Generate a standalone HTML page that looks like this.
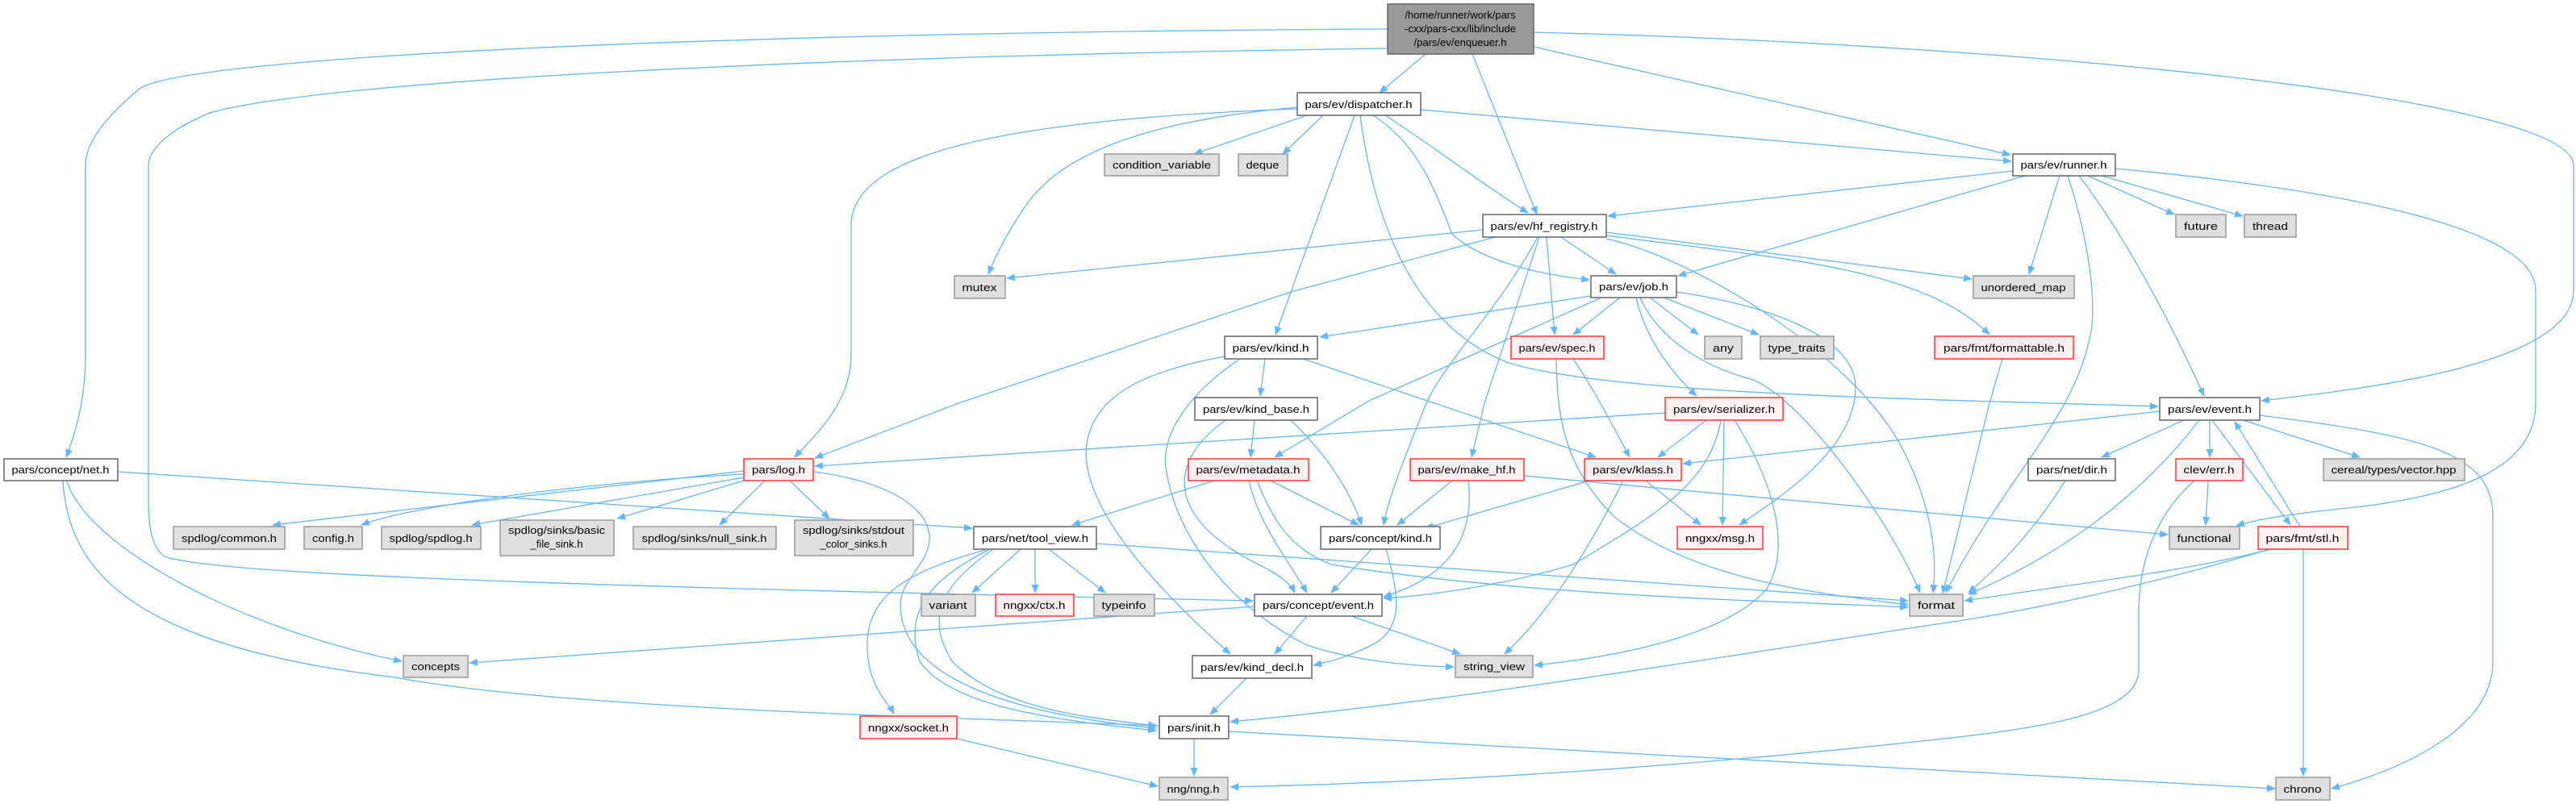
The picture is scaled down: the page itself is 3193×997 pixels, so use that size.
<!DOCTYPE html>
<html><head><meta charset="utf-8"><style>
html,body{margin:0;padding:0;background:#fff;}
svg{display:block;}
.e{fill:none;stroke:#63b7ff;stroke-width:1.3;marker-end:url(#a);}
.w{fill:#fff;stroke:#666;stroke-width:1.5;}
.g{fill:#e0e0e0;stroke:#999;stroke-width:1.5;}
.r{fill:#fff0f0;stroke:#f33;stroke-width:1.5;}
.root{fill:#999;stroke:#666;stroke-width:1.5;}
text{font-family:"Liberation Sans","DejaVu Sans",sans-serif;font-size:13px;fill:#000;text-anchor:middle;}
</style></head><body>
<svg width="3193" height="997" viewBox="0 0 3193 997" xmlns="http://www.w3.org/2000/svg">
<defs><marker id="a" markerUnits="userSpaceOnUse" markerWidth="11" markerHeight="9" refX="10" refY="4.5" orient="auto"><path d="M0,0 L11,4.5 L0,9 z" fill="#63b7ff"/></marker></defs>
<g>
<path class="e" d="M1767,67 L1710,115"/>
<path class="e" d="M1825,67 L1905,266"/>
<path class="e" d="M1901,58 L2492,192"/>
<path class="e" d="M1901,40 C2500,55 3190,120 3190,205 L3190,360 C3190,450 2950,480 2803,497"/>
<path class="e" d="M1720,36 C900,40 230,70 173,110 C125,150 106,180 106,205 L106,440 C106,480 100,520 82,567"/>
<path class="e" d="M1720,60 C1000,70 400,100 260,140 C200,165 184,190 184,205 L184,620 C184,660 190,680 204,690 C260,710 600,725 1553,745"/>
<path class="e" d="M146,585 L1205,655"/>
<path class="e" d="M83,597 C110,680 300,780 498,820"/>
<path class="e" d="M78,597 C85,700 150,800 490,840 C700,880 1200,890 1435,900"/>
<path class="e" d="M1620,143 L1480,191"/>
<path class="e" d="M1640,143 L1590,191"/>
<path class="e" d="M1608,133 C1420,150 1320,190 1275,250 C1250,285 1235,315 1225,340"/>
<path class="e" d="M1608,135 C1200,150 1055,200 1055,280 L1055,440 C1055,500 1010,540 985,567"/>
<path class="e" d="M1679,143 L1581,415"/>
<path class="e" d="M1717,143 C1760,170 1840,230 1894,264"/>
<path class="e" d="M1702,143 C1760,180 1780,240 1800,290 C1830,320 1900,340 1970,347"/>
<path class="e" d="M1686,143 C1700,250 1740,400 1870,450 C2000,490 2400,495 2675,504"/>
<path class="e" d="M1761,136 L2493,200"/>
<path class="e" d="M2495,212 L1993,268"/>
<path class="e" d="M2510,218 L2080,342"/>
<path class="e" d="M2553,218 L2515,340"/>
<path class="e" d="M2563,218 C2590,300 2600,380 2590,420 C2570,520 2480,600 2412,735"/>
<path class="e" d="M2577,218 C2640,300 2700,420 2732,491"/>
<path class="e" d="M2588,218 L2695,266"/>
<path class="e" d="M2605,218 L2780,268"/>
<path class="e" d="M2622,209 C2950,240 3143,290 3143,360 L3143,500 C3143,580 3050,615 2910,630 C2850,636 2800,643 2772,652"/>
<path class="e" d="M1838,285 L1248,345"/>
<path class="e" d="M1853,294 L1600,362 L1188,500 L1010,568"/>
<path class="e" d="M1906,294 C1860,380 1790,450 1768,500 C1740,570 1720,620 1715,651"/>
<path class="e" d="M1908,294 L1840,500 L1824,567"/>
<path class="e" d="M1917,294 L1927,415"/>
<path class="e" d="M1935,294 L2003,340"/>
<path class="e" d="M1991,288 L2444,346"/>
<path class="e" d="M1991,292 C2200,320 2380,330 2466,415"/>
<path class="e" d="M1991,296 C2100,320 2300,440 2360,560 C2400,640 2400,700 2396,735"/>
<path class="e" d="M1972,367 L1636,418"/>
<path class="e" d="M1985,369 L1697,497 L1580,567"/>
<path class="e" d="M2008,369 L1950,415"/>
<path class="e" d="M2045,369 L2105,415"/>
<path class="e" d="M2062,369 L2180,415"/>
<path class="e" d="M2028,369 C2040,420 2070,460 2103,491"/>
<path class="e" d="M2033,369 C2060,430 2130,460 2170,470 C2230,490 2340,640 2380,735"/>
<path class="e" d="M2078,362 C2200,380 2300,420 2300,480 C2300,560 2200,620 2156,651"/>
<path class="e" d="M1568,445 L1562,491"/>
<path class="e" d="M1615,445 L1778,500 L1978,567"/>
<path class="e" d="M1518,442 C1420,460 1350,490 1346,560 C1346,620 1400,700 1525,811"/>
<path class="e" d="M1537,445 C1470,490 1440,540 1445,580 C1460,680 1540,760 1620,800 C1680,820 1750,826 1802,827"/>
<path class="e" d="M1555,521 L1550,567"/>
<path class="e" d="M1600,521 C1640,560 1670,600 1688,651"/>
<path class="e" d="M1519,521 C1450,570 1440,640 1560,700 C1590,715 1600,725 1605,735"/>
<path class="e" d="M1950,445 C1980,490 2000,530 2020,567"/>
<path class="e" d="M1929,445 C1930,520 1940,580 2000,640 C2100,720 2250,735 2365,750"/>
<path class="e" d="M2064,512 L1010,578"/>
<path class="e" d="M2115,521 L2055,567"/>
<path class="e" d="M2137,521 L2135,651"/>
<path class="e" d="M2133,521 C2120,600 2050,640 1950,700 C1850,730 1750,740 1715,742"/>
<path class="e" d="M2150,521 C2200,600 2220,680 2190,730 C2130,800 1950,820 1902,825"/>
<path class="e" d="M1505,596 L1329,651"/>
<path class="e" d="M1575,596 L1684,651"/>
<path class="e" d="M1548,596 C1560,650 1600,700 1620,735"/>
<path class="e" d="M1558,596 C1580,650 1600,680 1650,700 C1900,740 2200,745 2365,753"/>
<path class="e" d="M1800,596 L1732,651"/>
<path class="e" d="M1820,596 C1830,680 1780,720 1715,740"/>
<path class="e" d="M1889,590 L2687,663"/>
<path class="e" d="M1970,596 L1767,655"/>
<path class="e" d="M2040,596 L2108,651"/>
<path class="e" d="M2012,596 C1970,680 1920,760 1865,811"/>
<path class="e" d="M2482,445 L2466,500 L2408,736"/>
<path class="e" d="M2677,510 L2086,575"/>
<path class="e" d="M2707,521 L2605,567"/>
<path class="e" d="M2739,521 L2739,567"/>
<path class="e" d="M2742,521 L2839,651"/>
<path class="e" d="M2851,653 L2770,523"/>
<path class="e" d="M2780,521 L2925,567"/>
<path class="e" d="M2726,521 C2650,620 2550,690 2440,737"/>
<path class="e" d="M2801,515 C3000,540 3090,560 3090,640 L3090,820 C3090,900 2990,950 2890,978"/>
<path class="e" d="M2737,596 L2734,651"/>
<path class="e" d="M2720,596 C2670,640 2651,700 2651,760 L2651,830 C2651,880 2560,900 2400,917 C2100,950 1800,970 1525,976"/>
<path class="e" d="M2815,681 C2700,710 2600,720 2435,745"/>
<path class="e" d="M2813,681 C2650,730 2500,760 2400,774 C2100,820 1800,870 1525,895"/>
<path class="e" d="M2855,681 L2855,962"/>
<path class="e" d="M2560,596 C2520,660 2480,700 2440,735"/>
<path class="e" d="M922,584 L338,651"/>
<path class="e" d="M922,588 C700,600 500,630 448,651"/>
<path class="e" d="M922,592 L585,651"/>
<path class="e" d="M922,596 L765,643"/>
<path class="e" d="M948,596 L892,651"/>
<path class="e" d="M979,596 L1028,643"/>
<path class="e" d="M1009,585 C1120,600 1155,640 1152,670 C1150,700 1116,720 1116,750 C1116,820 1200,880 1433,903"/>
<path class="e" d="M1265,681 L1205,735"/>
<path class="e" d="M1283,681 L1283,735"/>
<path class="e" d="M1300,681 L1370,735"/>
<path class="e" d="M1221,682 C1120,710 1075,740 1075,800 C1075,850 1100,870 1108,885"/>
<path class="e" d="M1225,682 C1150,720 1120,760 1140,820 C1180,880 1330,895 1433,906"/>
<path class="e" d="M1230,682 C1160,730 1150,770 1180,820 C1240,880 1350,890 1433,900"/>
<path class="e" d="M1359,674 L2365,745"/>
<path class="e" d="M1700,681 L1650,735"/>
<path class="e" d="M1718,681 C1735,740 1740,780 1700,800 C1670,815 1650,820 1628,825"/>
<path class="e" d="M1555,752 L582,822"/>
<path class="e" d="M1620,764 L1580,811"/>
<path class="e" d="M1675,764 L1810,811"/>
<path class="e" d="M1545,841 L1500,886"/>
<path class="e" d="M1186,916 L1435,975"/>
<path class="e" d="M1480,916 L1480,962"/>
<path class="e" d="M1523,907 L2820,978"/>
</g>
<g>
<rect class="root" x="1720" y="5" width="181" height="62"/>
<text x="1810" y="23">/home/runner/work/pars</text><text x="1810" y="40">-cxx/pars-cxx/lib/include</text><text x="1810" y="57">/pars/ev/enqueuer.h</text>

<rect class="w" x="1608" y="115" width="153" height="28"/><text x="1684" y="134" textLength="133" lengthAdjust="spacingAndGlyphs">pars/ev/dispatcher.h</text>
<rect class="g" x="1369" y="191" width="142" height="27"/><text x="1440" y="209" textLength="122" lengthAdjust="spacingAndGlyphs">condition_variable</text>
<rect class="g" x="1535" y="191" width="61" height="27"/><text x="1565" y="209" textLength="41" lengthAdjust="spacingAndGlyphs">deque</text>
<rect class="w" x="2495" y="191" width="127" height="27"/><text x="2558" y="209" textLength="107" lengthAdjust="spacingAndGlyphs">pars/ev/runner.h</text>
<rect class="w" x="1838" y="266" width="153" height="28"/><text x="1914" y="285" textLength="133" lengthAdjust="spacingAndGlyphs">pars/ev/hf_registry.h</text>
<rect class="g" x="2697" y="266" width="62" height="28"/><text x="2728" y="285" textLength="42" lengthAdjust="spacingAndGlyphs">future</text>
<rect class="g" x="2782" y="266" width="64" height="28"/><text x="2814" y="285" textLength="44" lengthAdjust="spacingAndGlyphs">thread</text>
<rect class="g" x="1183" y="342" width="63" height="28"/><text x="1214" y="361" textLength="43" lengthAdjust="spacingAndGlyphs">mutex</text>
<rect class="w" x="1972" y="342" width="106" height="27"/><text x="2025" y="360" textLength="86" lengthAdjust="spacingAndGlyphs">pars/ev/job.h</text>
<rect class="g" x="2446" y="342" width="125" height="28"/><text x="2508" y="361" textLength="105" lengthAdjust="spacingAndGlyphs">unordered_map</text>
<rect class="w" x="1518" y="417" width="115" height="28"/><text x="1575" y="436" textLength="95" lengthAdjust="spacingAndGlyphs">pars/ev/kind.h</text>
<rect class="r" x="1873" y="417" width="115" height="28"/><text x="1930" y="436" textLength="95" lengthAdjust="spacingAndGlyphs">pars/ev/spec.h</text>
<rect class="g" x="2113" y="417" width="46" height="28"/><text x="2136" y="436" textLength="26" lengthAdjust="spacingAndGlyphs">any</text>
<rect class="g" x="2182" y="417" width="91" height="28"/><text x="2227" y="436" textLength="71" lengthAdjust="spacingAndGlyphs">type_traits</text>
<rect class="r" x="2398" y="417" width="172" height="28"/><text x="2484" y="436" textLength="150" lengthAdjust="spacingAndGlyphs">pars/fmt/formattable.h</text>
<rect class="w" x="1481" y="493" width="152" height="28"/><text x="1557" y="512" textLength="132" lengthAdjust="spacingAndGlyphs">pars/ev/kind_base.h</text>
<rect class="r" x="2064" y="493" width="146" height="28"/><text x="2137" y="512" textLength="126" lengthAdjust="spacingAndGlyphs">pars/ev/serializer.h</text>
<rect class="w" x="2677" y="493" width="124" height="28"/><text x="2739" y="512" textLength="104" lengthAdjust="spacingAndGlyphs">pars/ev/event.h</text>
<rect class="w" x="5" y="569" width="141" height="27"/><text x="75" y="587" textLength="121" lengthAdjust="spacingAndGlyphs">pars/concept/net.h</text>
<rect class="r" x="922" y="569" width="86" height="27"/><text x="965" y="587" textLength="66" lengthAdjust="spacingAndGlyphs">pars/log.h</text>
<rect class="r" x="1473" y="569" width="149" height="27"/><text x="1547" y="587" textLength="129" lengthAdjust="spacingAndGlyphs">pars/ev/metadata.h</text>
<rect class="r" x="1748" y="569" width="141" height="27"/><text x="1818" y="587" textLength="121" lengthAdjust="spacingAndGlyphs">pars/ev/make_hf.h</text>
<rect class="r" x="1964" y="569" width="120" height="27"/><text x="2024" y="587" textLength="100" lengthAdjust="spacingAndGlyphs">pars/ev/klass.h</text>
<rect class="w" x="2514" y="569" width="108" height="27"/><text x="2568" y="587" textLength="88" lengthAdjust="spacingAndGlyphs">pars/net/dir.h</text>
<rect class="r" x="2697" y="569" width="83" height="27"/><text x="2738" y="587" textLength="63" lengthAdjust="spacingAndGlyphs">clev/err.h</text>
<rect class="g" x="2880" y="569" width="175" height="27"/><text x="2967" y="587" textLength="155" lengthAdjust="spacingAndGlyphs">cereal/types/vector.hpp</text>
<rect class="g" x="215" y="653" width="138" height="28"/><text x="284" y="672" textLength="118" lengthAdjust="spacingAndGlyphs">spdlog/common.h</text>
<rect class="g" x="377" y="653" width="72" height="28"/><text x="413" y="672" textLength="52" lengthAdjust="spacingAndGlyphs">config.h</text>
<rect class="g" x="473" y="653" width="123" height="28"/><text x="534" y="672" textLength="103" lengthAdjust="spacingAndGlyphs">spdlog/spdlog.h</text>
<rect class="g" x="620" y="645" width="141" height="44"/><text x="690" y="662" textLength="120" lengthAdjust="spacingAndGlyphs">spdlog/sinks/basic</text><text x="690" y="679">_file_sink.h</text>
<rect class="g" x="785" y="653" width="177" height="28"/><text x="873" y="672" textLength="155" lengthAdjust="spacingAndGlyphs">spdlog/sinks/null_sink.h</text>
<rect class="g" x="985" y="645" width="147" height="44"/><text x="1058" y="662" textLength="126" lengthAdjust="spacingAndGlyphs">spdlog/sinks/stdout</text><text x="1058" y="679">_color_sinks.h</text>
<rect class="w" x="1207" y="653" width="152" height="28"/><text x="1283" y="672" textLength="132" lengthAdjust="spacingAndGlyphs">pars/net/tool_view.h</text>
<rect class="w" x="1637" y="653" width="148" height="28"/><text x="1711" y="672" textLength="128" lengthAdjust="spacingAndGlyphs">pars/concept/kind.h</text>
<rect class="r" x="2079" y="653" width="106" height="28"/><text x="2132" y="672" textLength="86" lengthAdjust="spacingAndGlyphs">nngxx/msg.h</text>
<rect class="g" x="2689" y="653" width="87" height="28"/><text x="2732" y="672" textLength="67" lengthAdjust="spacingAndGlyphs">functional</text>
<rect class="r" x="2799" y="653" width="111" height="28"/><text x="2854" y="672" textLength="91" lengthAdjust="spacingAndGlyphs">pars/fmt/stl.h</text>
<rect class="g" x="1142" y="737" width="67" height="27"/><text x="1175" y="755" textLength="47" lengthAdjust="spacingAndGlyphs">variant</text>
<rect class="r" x="1234" y="737" width="97" height="27"/><text x="1282" y="755" textLength="77" lengthAdjust="spacingAndGlyphs">nngxx/ctx.h</text>
<rect class="g" x="1356" y="737" width="75" height="27"/><text x="1393" y="755" textLength="55" lengthAdjust="spacingAndGlyphs">typeinfo</text>
<rect class="w" x="1555" y="737" width="158" height="27"/><text x="1634" y="755" textLength="138" lengthAdjust="spacingAndGlyphs">pars/concept/event.h</text>
<rect class="g" x="2367" y="737" width="66" height="27"/><text x="2400" y="755" textLength="46" lengthAdjust="spacingAndGlyphs">format</text>
<rect class="g" x="500" y="813" width="80" height="27"/><text x="540" y="831" textLength="60" lengthAdjust="spacingAndGlyphs">concepts</text>
<rect class="w" x="1478" y="813" width="148" height="28"/><text x="1552" y="832" textLength="128" lengthAdjust="spacingAndGlyphs">pars/ev/kind_decl.h</text>
<rect class="g" x="1804" y="813" width="96" height="27"/><text x="1852" y="831" textLength="76" lengthAdjust="spacingAndGlyphs">string_view</text>
<rect class="r" x="1066" y="888" width="120" height="28"/><text x="1126" y="907" textLength="100" lengthAdjust="spacingAndGlyphs">nngxx/socket.h</text>
<rect class="w" x="1437" y="888" width="86" height="28"/><text x="1480" y="907" textLength="66" lengthAdjust="spacingAndGlyphs">pars/init.h</text>
<rect class="g" x="1437" y="964" width="85" height="28"/><text x="1479" y="983" textLength="65" lengthAdjust="spacingAndGlyphs">nng/nng.h</text>
<rect class="g" x="2821" y="964" width="67" height="28"/><text x="2854" y="983" textLength="47" lengthAdjust="spacingAndGlyphs">chrono</text>
</g>
</svg>
</body></html>
